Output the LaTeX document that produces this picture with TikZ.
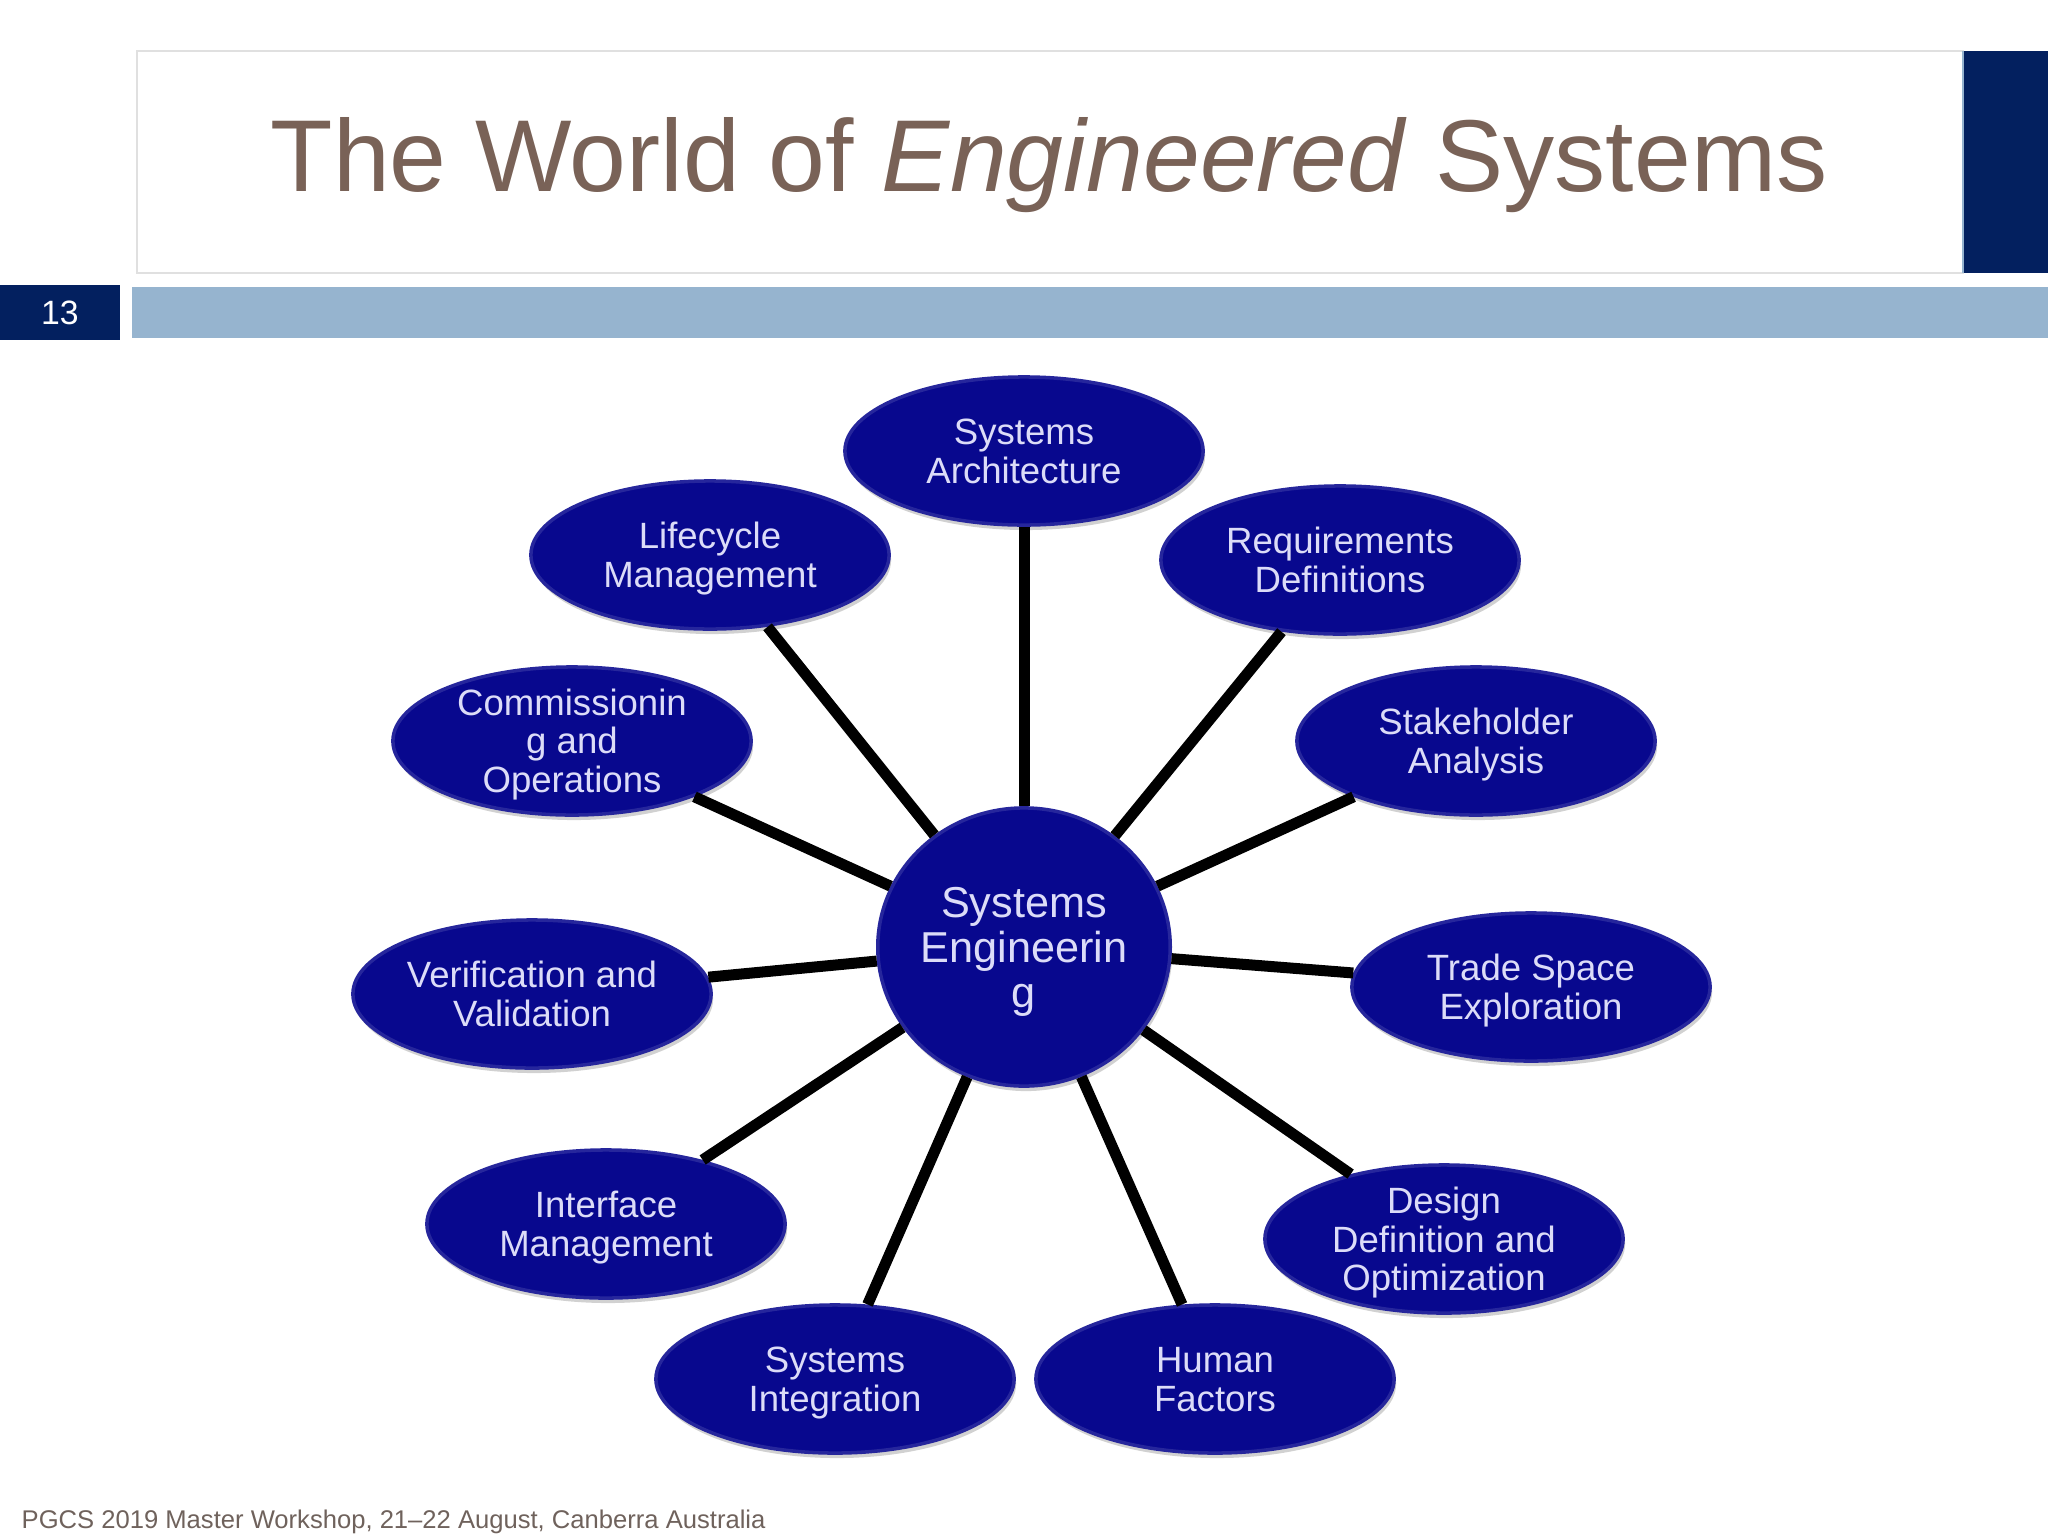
\documentclass[tikz,border=0pt]{standalone}
\usepackage{fontspec}
\setmainfont{Liberation Sans}
\usepackage{xcolor}
\usetikzlibrary{shapes.geometric,shadows}

\definecolor{navybar}{HTML}{03205F}
\definecolor{steelbar}{HTML}{96B4CF}
\definecolor{titlebrown}{HTML}{796257}
\definecolor{bubbleblue}{HTML}{08088E}
\definecolor{bubbletext}{HTML}{DCDCF8}
\definecolor{footgray}{HTML}{6F625C}

\newcommand{\capline}{\rule{0pt}{0.93em}}

\tikzset{
	bubble/.style={ellipse,draw=bubbleblue!88!white,line width=1pt,fill=bubbleblue,text=bubbletext,
		minimum width=3.58cm,minimum height=1.48cm,inner xsep=0pt,inner ysep=-0.15cm,align=center,font=\fontsize{10.4pt}{11.0pt}\selectfont,
		execute at end node={\rule[-0.22em]{0pt}{0.22em}},
		drop shadow={shadow xshift=0.02cm,shadow yshift=-0.05cm,fill=black!45,opacity=0.4}},
	hub/.style={bubble,minimum width=2.91cm,minimum height=2.78cm,font=\fontsize{12.3pt}{12.7pt}\selectfont},
	spoke/.style={line width=0.11cm,black}
}

\begin{document}
\begin{tikzpicture}[x=0.01cm,y=-0.01cm]
	\useasboundingbox (0,0) rectangle (2048,1536);
	
	% header
	\draw[black!12,line width=0.7pt] (137,51) rectangle (1963,273);
	\fill[navybar] (1963,51) rectangle (2048,273);
	\draw[steelbar,line width=0.7pt] (1963,51) -- (1963,273);
	\fill[navybar] (0,285) rectangle (120,340);
	\fill[steelbar] (132,287) rectangle (2048,338);
	
	\node[text=white,font=\fontsize{9.6pt}{10pt}\selectfont] (pagenum) at (60,313) {13};
	\node[text=titlebrown,font=\fontsize{29.05pt}{30pt}\selectfont] (title) at (1049,165) {The World of \textit{Engineered} Systems};
	\node[text=footgray,anchor=west,inner sep=0pt,font=\fontsize{7.28pt}{8pt}\selectfont] (foot) at (21,1522) {PGCS 2019 Master Workshop, 21--22 August, Canberra Australia};
	
	% bubbles
	\node[hub] (eng) at (1024,947) {\capline Systems\\Engineerin\\g};
	\node[bubble] (arch) at (1024,451) {\capline Systems\\Architecture};
	\node[bubble] (life) at (710,555) {\capline Lifecycle\\Management};
	\node[bubble] (reqs) at (1340,560) {\capline Requirements\\Definitions};
	\node[bubble] (comm) at (572,741) {\capline Commissionin\\g and\\Operations};
	\node[bubble] (stake) at (1476,741) {\capline Stakeholder\\Analysis};
	\node[bubble] (veri) at (532,994) {\capline Verification and\\Validation};
	\node[bubble] (trade) at (1531,987) {\capline Trade Space\\Exploration};
	\node[bubble] (iface) at (606,1224) {\capline Interface\\Management};
	\node[bubble] (design) at (1444,1239) {\capline Design\\Definition and\\Optimization};
	\node[bubble] (integ) at (835,1379) {\capline Systems\\Integration};
	\node[bubble] (human) at (1215,1379) {\capline Human\\Factors};
	
	\foreach \i in {arch,life,reqs,comm,stake,veri,trade,iface,design,integ,human} {
		\draw[spoke] (eng) -- (\i);
	}
\end{tikzpicture}
\end{document}
